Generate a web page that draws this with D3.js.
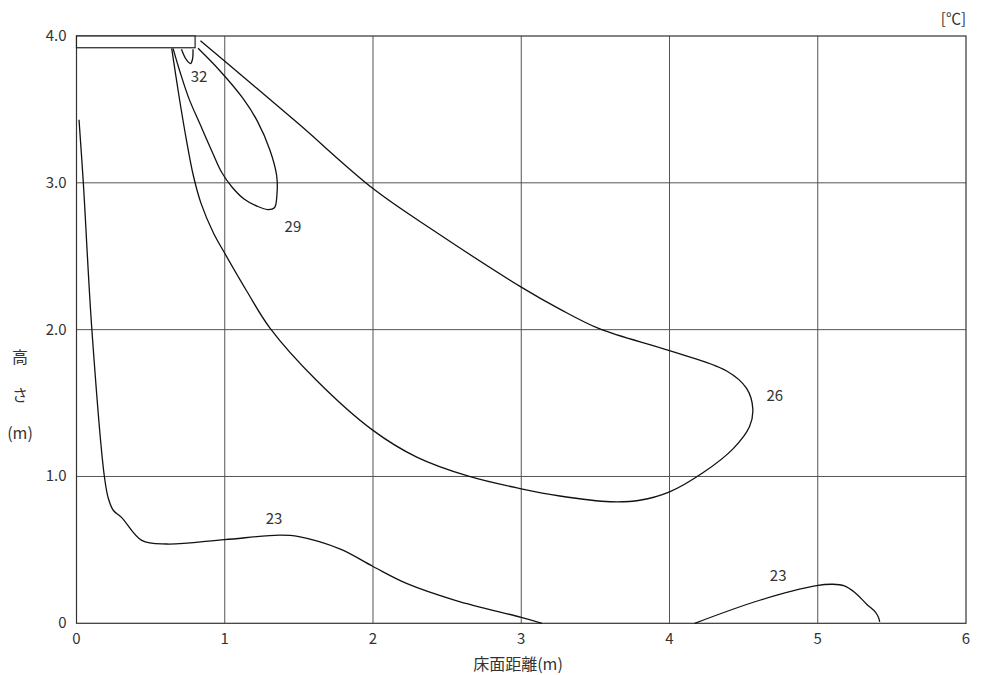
<!DOCTYPE html>
<html>
<head>
<meta charset="utf-8">
<script src="https://cdn.jsdelivr.net/npm/d3@7"></script>
<style>
  body { margin: 0; background: #fff; }
  svg { font-family: "Noto Sans CJK JP", "Noto Sans", sans-serif; }
</style>
</head>
<body>
<svg id="chart" width="984" height="675"></svg>
<script>
// tick values
const xTicks = [0, 1, 2, 3, 4, 5, 6];
const yTicks = [0, 1, 2, 3, 4];
const yTickLabels = ["0", "1.0", "2.0", "3.0", "4.0"];

// air outlet unit (x0, x1, y0, y1) in metres
const unitBox = [0, 0.8, 3.92, 4.0];

// isotherms, [distance m, height m]
const iso32 = [[0.708, 3.91], [0.74, 3.84], [0.769, 3.812], [0.782, 3.84], [0.786, 3.91]];
const iso29 = [
  [0.651, 3.916], [0.70, 3.75], [0.76, 3.57], [0.833, 3.40], [0.92, 3.20], [0.98, 3.07],
  [1.05, 2.97], [1.13, 2.89], [1.22, 2.84], [1.29, 2.818], [1.335, 2.83], [1.352, 2.92],
  [1.35, 3.05], [1.305, 3.222], [1.22, 3.42], [1.123, 3.575], [0.97, 3.76], [0.82, 3.916]
];
const iso26 = [
  [0.642, 3.916], [0.69, 3.6], [0.74, 3.3], [0.788, 3.05], [0.84, 2.86], [0.923, 2.66],
  [1.0, 2.52], [1.15, 2.26], [1.305, 2.011], [1.62, 1.654], [2.0, 1.314], [2.295, 1.132],
  [2.65, 1.0], [3.0, 0.916], [3.26, 0.867], [3.6, 0.828], [3.8, 0.838], [4.0, 0.895],
  [4.225, 1.025], [4.43, 1.19], [4.54, 1.34], [4.562, 1.46], [4.52, 1.6], [4.383, 1.72],
  [4.0, 1.857], [3.53, 2.005], [3.26, 2.14], [3.0, 2.29], [2.406, 2.677], [2.0, 2.961],
  [1.5, 3.40], [1.15, 3.70], [0.836, 3.968]
];
const iso23a = [
  [0.017, 3.43], [0.046, 3.0], [0.103, 2.01], [0.188, 1.0], [0.215, 0.85], [0.248, 0.77],
  [0.305, 0.72], [0.44, 0.565], [0.608, 0.54], [1.0, 0.57], [1.37, 0.60], [1.5, 0.59],
  [1.78, 0.505], [2.0, 0.387], [2.23, 0.27], [2.56, 0.155], [3.0, 0.04], [3.14, 0]
];
const iso23b = [
  [4.17, 0], [4.609, 0.157], [4.991, 0.256], [5.10, 0.266], [5.18, 0.255],
  [5.25, 0.21], [5.33, 0.13], [5.39, 0.075], [5.41, 0.04], [5.418, 0.01]
];

const isoLines = [iso32, iso29, iso26, iso23a, iso23b];
const isoLabels = [
  { text: "32", x: 0.826, y: 3.72 },
  { text: "29", x: 1.46, y: 2.70 },
  { text: "26", x: 4.71, y: 1.55 },
  { text: "23", x: 1.332, y: 0.714 },
  { text: "23", x: 4.733, y: 0.325 }
];

const margin = { top: 36, right: 18, bottom: 52, left: 76.5 };
const width = 984, height = 675;

const svg = d3.select("#chart");

const x = d3.scaleLinear().domain([0, 6]).range([margin.left, width - margin.right]);
const y = d3.scaleLinear().domain([0, 4]).range([height - margin.bottom + 0.3, margin.top]);

// grid
const grid = svg.append("g").attr("stroke", "#555").attr("stroke-width", 1);
grid.selectAll("line.vx")
  .data(xTicks.slice(1, -1))
  .join("line")
  .attr("class", "vx")
  .attr("x1", (d) => x(d)).attr("x2", (d) => x(d))
  .attr("y1", y(0)).attr("y2", y(4));
grid.selectAll("line.hy")
  .data(yTicks.slice(1, -1))
  .join("line")
  .attr("class", "hy")
  .attr("x1", x(0)).attr("x2", x(6))
  .attr("y1", (d) => y(d)).attr("y2", (d) => y(d));

// frame
svg.append("rect")
  .attr("x", x(0)).attr("y", y(4))
  .attr("width", x(6) - x(0)).attr("height", y(0) - y(4))
  .attr("fill", "none").attr("stroke", "#333").attr("stroke-width", 1.2);

// outlet unit
svg.append("rect")
  .attr("x", x(unitBox[0])).attr("y", y(unitBox[3]))
  .attr("width", x(unitBox[1]) - x(unitBox[0]))
  .attr("height", y(unitBox[2]) - y(unitBox[3]))
  .attr("fill", "#fff").attr("stroke", "#222").attr("stroke-width", 1.2);

// tick labels
svg.append("g")
  .selectAll("text")
  .data(xTicks)
  .join("text")
  .attr("x", (d) => x(d))
  .attr("y", y(0) + 21)
  .attr("text-anchor", "middle")
  .attr("font-size", 15)
  .attr("fill", "#333")
  .text((d) => d);

svg.append("g")
  .selectAll("text")
  .data(yTicks)
  .join("text")
  .attr("x", x(0) - 10)
  .attr("y", (d) => y(d) + 5)
  .attr("text-anchor", "end")
  .attr("font-size", 15)
  .attr("fill", "#333")
  .text((d, i) => yTickLabels[i]);

// axis titles
svg.append("text")
  .attr("x", 518).attr("y", 670)
  .attr("text-anchor", "middle")
  .attr("font-size", 16)
  .attr("fill", "#333")
  .text("床面距離(m)");

svg.append("g")
  .selectAll("text")
  .data(["高", "さ", "(m)"])
  .join("text")
  .attr("x", 20)
  .attr("y", (d, i) => 363 + i * 38)
  .attr("text-anchor", "middle")
  .attr("font-size", 16)
  .attr("fill", "#333")
  .text((d) => d);

svg.append("text")
  .attr("x", x(6)).attr("y", 24)
  .attr("text-anchor", "end")
  .attr("font-size", 15)
  .attr("fill", "#333")
  .text("[℃]");

// isotherms
const line = d3.line()
  .x((d) => x(d[0]))
  .y((d) => y(d[1]))
  .curve(d3.curveCatmullRom.alpha(0.5));

svg.append("g")
  .selectAll("path")
  .data(isoLines)
  .join("path")
  .attr("d", line)
  .attr("fill", "none")
  .attr("stroke", "#111")
  .attr("stroke-width", 1.3);

svg.append("g")
  .selectAll("text")
  .data(isoLabels)
  .join("text")
  .attr("x", (d) => x(d.x))
  .attr("y", (d) => y(d.y))
  .attr("dy", "0.35em")
  .attr("text-anchor", "middle")
  .attr("font-size", 15)
  .attr("fill", "#333")
  .text((d) => d.text);
</script>
</body>
</html>
